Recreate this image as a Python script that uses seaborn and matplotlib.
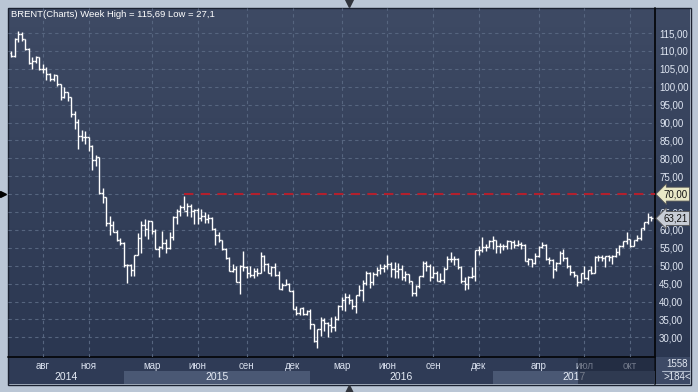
import numpy as np
import pandas as pd
import matplotlib
matplotlib.use("Agg")
import matplotlib.pyplot as plt
import matplotlib.transforms as mtransforms
from matplotlib.patches import Rectangle
import seaborn as sns

# weekly bars (open, high, low, close)
ohlc_2014 = [
    (109.4, 109.9, 108.2, 108.6), (108.6, 113.6, 108.4, 113.4), (113.4, 115.7, 112.5, 114.8),
    (114.8, 115.3, 112.9, 113.3), (113.3, 113.4, 110.4, 110.6), (110.6, 110.7, 106.4, 106.7),
    (106.7, 108.3, 104.9, 107.2), (107.2, 108.6, 106.5, 108.4), (108.4, 108.4, 104.6, 105.0),
    (105.0, 106.4, 103.9, 105.0), (105.0, 105.6, 101.9, 103.5), (103.5, 103.8, 101.6, 102.3),
    (102.3, 103.5, 101.7, 103.2), (103.2, 103.3, 100.3, 100.8), (100.8, 100.9, 96.2, 97.1),
    (97.1, 99.8, 96.8, 98.4), (98.4, 98.5, 95.9, 97.0), (97.0, 97.2, 91.5, 92.3),
    (92.3, 93.2, 88.1, 90.2), (90.2, 91.0, 82.6, 86.2), (86.2, 87.8, 84.8, 86.1),
    (86.1, 87.6, 84.1, 85.9), (85.9, 86.1, 82.1, 83.4), (83.4, 83.6, 76.8, 79.4),
    (79.4, 80.8, 77.9, 80.4), (80.4, 80.4, 70.0, 70.2), (70.2, 71.8, 67.5, 69.1),
    (69.1, 69.3, 61.2, 61.9), (61.9, 63.9, 58.5, 61.4), (61.4, 62.5, 59.4, 59.5),
    (59.5, 60.0, 57.0, 57.3), (57.3, 57.8, 55.9, 56.4),
]
ohlc_2015 = [
    (56.4, 56.5, 49.7, 50.1), (50.1, 50.6, 45.2, 50.2), (50.2, 50.5, 47.2, 48.8),
    (48.8, 53.0, 47.2, 53.0), (53.0, 59.1, 52.9, 57.8), (57.8, 62.6, 53.5, 61.5),
    (61.5, 63.0, 58.3, 60.2), (60.2, 62.9, 57.6, 62.6), (62.6, 62.6, 58.8, 59.7),
    (59.7, 60.2, 54.6, 54.7), (54.7, 55.5, 52.5, 55.3), (55.3, 59.7, 54.6, 56.4),
    (56.4, 57.5, 53.5, 55.0), (55.0, 59.4, 54.6, 57.9), (57.9, 64.0, 57.3, 63.5),
    (63.5, 65.9, 61.7, 65.3), (65.3, 67.1, 63.8, 66.5), (66.5, 69.6, 65.5, 65.4),
    (65.4, 67.6, 63.9, 66.8), (66.8, 67.3, 63.5, 65.4), (65.4, 65.8, 61.6, 65.6),
    (65.6, 66.0, 61.6, 63.3), (63.3, 65.9, 62.6, 63.9), (63.9, 64.9, 61.8, 63.0),
    (63.0, 64.4, 61.9, 63.3), (63.3, 63.5, 60.0, 60.3), (60.3, 60.6, 55.8, 58.7),
    (58.7, 59.3, 56.6, 57.1), (57.1, 57.2, 54.3, 54.6), (54.6, 54.9, 51.8, 52.2),
    (52.2, 52.3, 48.4, 48.6), (48.6, 50.6, 48.2, 49.2), (49.2, 49.8, 45.5, 45.5),
    (45.5, 50.1, 42.2, 50.0), (50.0, 54.2, 48.6, 49.6), (49.6, 50.0, 46.5, 48.1),
    (48.1, 49.8, 46.9, 47.5), (47.5, 49.5, 46.7, 48.6), (48.6, 49.4, 47.1, 48.1),
    (48.1, 53.8, 48.0, 52.7), (52.7, 53.1, 48.4, 50.5), (50.5, 50.9, 47.9, 48.1),
    (48.1, 50.0, 47.2, 49.6), (49.6, 50.9, 47.1, 47.4), (47.4, 48.6, 43.5, 43.6),
    (43.6, 45.1, 43.2, 44.7), (44.7, 46.4, 44.5, 44.9), (44.9, 45.3, 42.8, 43.0),
    (43.0, 43.2, 37.9, 37.9), (37.9, 38.8, 36.3, 36.9), (36.9, 38.2, 36.1, 38.1),
    (38.1, 38.4, 36.1, 36.5), (36.5, 37.6, 36.3, 37.3),
]
ohlc_2016 = [
    (37.3, 37.9, 32.2, 33.6), (33.6, 33.8, 28.8, 28.9), (28.9, 32.4, 27.1, 32.2),
    (32.2, 35.8, 30.3, 34.7), (34.7, 35.4, 31.8, 34.1), (34.1, 34.3, 30.0, 33.4),
    (33.4, 35.6, 31.6, 33.0), (33.0, 35.9, 31.8, 35.1), (35.1, 39.0, 34.9, 38.7),
    (38.7, 41.2, 37.6, 40.4), (40.4, 42.5, 37.3, 41.2), (41.2, 42.0, 39.2, 40.4),
    (40.4, 40.6, 38.0, 38.7), (38.7, 41.9, 36.8, 41.9), (41.9, 44.7, 41.6, 43.1),
    (43.1, 45.9, 40.1, 45.1), (45.1, 48.5, 44.5, 48.1), (48.1, 48.3, 43.9, 45.4),
    (45.4, 48.2, 44.6, 47.8), (47.8, 49.6, 47.2, 48.7), (48.7, 50.5, 47.6, 49.3),
    (49.3, 50.5, 48.2, 50.0), (50.0, 52.9, 49.1, 50.5), (50.5, 51.0, 46.9, 49.2),
    (49.2, 51.0, 46.7, 48.4), (48.4, 50.8, 46.6, 49.0), (49.0, 50.3, 45.9, 46.8),
    (46.8, 48.5, 45.8, 47.6), (47.6, 47.8, 45.3, 45.7), (45.7, 45.8, 41.5, 42.5),
    (42.5, 44.6, 41.5, 44.3), (44.3, 47.2, 43.9, 47.0), (47.0, 51.2, 46.9, 50.9),
    (50.9, 51.2, 48.4, 49.9), (49.9, 50.4, 45.6, 46.8), (46.8, 50.0, 46.6, 48.0),
    (48.0, 48.4, 45.7, 45.8), (45.8, 47.9, 45.4, 45.9), (45.9, 49.6, 45.2, 49.2),
    (49.2, 52.8, 49.1, 51.9), (51.9, 53.7, 51.0, 52.0), (52.0, 52.8, 50.3, 51.8),
    (51.8, 52.2, 49.0, 49.7), (49.7, 49.8, 45.3, 45.6), (45.6, 46.8, 43.3, 44.8),
    (44.8, 47.0, 43.6, 46.9), (46.9, 49.6, 46.5, 47.2), (47.2, 54.5, 45.8, 54.5),
    (54.5, 55.6, 53.0, 54.3), (54.3, 57.9, 53.8, 55.2), (55.2, 56.0, 54.1, 55.2),
    (55.2, 57.1, 55.1, 56.8),
]
ohlc_2017 = [
    (56.8, 58.4, 54.8, 57.1), (57.1, 57.1, 53.6, 55.5), (55.5, 56.4, 53.6, 55.5),
    (55.5, 56.2, 54.4, 55.5), (55.5, 57.2, 54.7, 56.8), (56.8, 56.9, 54.8, 56.7),
    (56.7, 57.3, 55.0, 55.8), (55.8, 57.1, 55.6, 56.0), (56.0, 56.7, 54.6, 55.9),
    (55.9, 56.2, 51.2, 51.4), (51.4, 52.2, 50.3, 51.8), (51.8, 51.9, 49.7, 50.8),
    (50.8, 53.5, 50.5, 52.8), (52.8, 55.5, 52.5, 55.2), (55.2, 56.6, 54.9, 55.9),
    (55.9, 56.1, 51.5, 52.0), (52.0, 52.5, 50.5, 51.7), (51.7, 51.9, 46.6, 49.1),
    (49.1, 51.0, 48.4, 50.8), (50.8, 54.0, 50.6, 53.6), (53.6, 54.7, 51.2, 52.2),
    (52.2, 52.5, 49.3, 50.0), (50.0, 50.3, 47.3, 48.2), (48.2, 48.6, 46.8, 47.4),
    (47.4, 47.5, 44.4, 45.5), (45.5, 48.1, 45.3, 47.9), (47.9, 50.0, 46.3, 46.7),
    (46.7, 48.9, 45.9, 48.9), (48.9, 49.9, 47.7, 48.1), (48.1, 52.6, 47.9, 52.5),
    (52.5, 53.0, 51.4, 52.4), (52.4, 53.1, 51.4, 52.1), (52.1, 52.7, 49.7, 52.7),
    (52.7, 52.9, 51.2, 52.4), (52.4, 53.1, 50.4, 52.8), (52.8, 54.9, 52.5, 53.8),
    (53.8, 55.7, 53.1, 55.6), (55.6, 56.9, 55.1, 56.9), (56.9, 59.5, 56.0, 57.5),
    (57.5, 57.6, 55.3, 55.6), (55.6, 57.2, 55.4, 57.2), (57.2, 58.5, 56.9, 57.8),
    (57.8, 60.5, 57.1, 60.4), (60.4, 62.2, 59.9, 62.1), (62.1, 64.7, 61.6, 63.5),
    (63.5, 63.8, 62.6, 63.21),
]
first_week = "2014-06-02"
last_week = "2017-11-13"
split_bars = ["2014-12-31", "2015-12-31"]   # short year-end bars

tick_months = ["2014-08", "2014-11", "2015-03", "2015-06", "2015-09", "2015-12",
               "2016-03", "2016-06", "2016-09", "2016-12", "2017-04", "2017-07", "2017-10"]
tick_labels = ["авг", "ноя", "мар", "июн", "сен", "дек",
               "мар", "июн", "сен", "дек", "апр", "июл", "окт"]
years = [2014, 2015, 2016, 2017]
shaded_years = [2015, 2017]

level = 70.0
level_from = "2015-05-04"
title = "BRENT(Charts) Week High = 115,69 Low = 27,1"
bars_total = "1558"
bars_shown = ">184<"

# build the bar table
dates = pd.date_range(first_week, last_week, freq="W-MON").append(pd.DatetimeIndex(split_bars)).sort_values()
df = pd.DataFrame(ohlc_2014 + ohlc_2015 + ohlc_2016 + ohlc_2017, columns=["open", "high", "low", "close"])
df["date"] = dates
df["idx"] = np.arange(len(df))

month_idx = [int(df.idx[df.date >= pd.Timestamp(m + "-01")].iloc[0]) for m in tick_months]
year_idx = [int(df.idx[df.date >= pd.Timestamp(f"{y}-01-01")].iloc[0]) for y in years]

sns.set_theme(style="dark")
plt.rcParams["font.family"] = ["Liberation Sans", "DejaVu Sans"]

fig = plt.figure(figsize=(6.98, 3.92), dpi=100, facecolor="#bac6d5")

# background layer in pixel coordinates
bg = fig.add_axes([0, 0, 1, 1])
bg.set_xlim(0, 698)
bg.set_ylim(392, 0)
bg.axis("off")
bg.set_zorder(0)
g = np.linspace(0, 1, 256)[:, None, None]
top_c = np.array([62, 74, 100]) / 255
bot_c = np.array([43, 55, 81]) / 255
grad = top_c * (1 - g) + bot_c * g
bg.imshow(grad, extent=[8, 690, 357, 8], aspect="auto", interpolation="bilinear")
bg.add_patch(Rectangle((8, 357), 647, 27, fc="#2f3b56", ec="none"))
bg.add_patch(Rectangle((655, 357), 35, 27, fc="#3d4a66", ec="none"))
bg.plot([655, 655], [8, 384], color="#06080c", lw=1.3)
bg.plot([8, 655], [357, 357], color="#06080c", lw=1.3)
bg.add_patch(Rectangle((7.5, 7.5), 683, 377, fill=False, ec="#1a2130", lw=1))
bg.text(677, 364, bars_total, ha="center", va="center", fontsize=7, color="#e2e8f2")
bg.text(677, 377, bars_shown, ha="center", va="center", fontsize=7, color="#e2e8f2")
bg.plot([662, 690], [370.5, 370.5], color="#a9b4c6", lw=0.8)

# main price axes
ax = fig.add_axes([8 / 698, 35 / 392, 647 / 698, 349 / 392])
ax.set_zorder(2)
ax.set_facecolor("none")
for s in ax.spines.values():
    s.set_visible(False)
ax.set_xlim(-0.95, 183.1)
ax.set_ylim(24.5, 122.0)

yt = np.arange(30, 116, 5)
ax.set_yticks(yt)
# the 70 label sits under the level marker box
ax.set_yticklabels(["" if v == level else f"{v},00" for v in yt])
ax.yaxis.tick_right()
ax.tick_params(axis="y", length=0, pad=3, labelsize=7, labelcolor="#dfe6f2")
ax.set_xticks(month_idx)
ax.set_xticklabels([])
ax.tick_params(axis="x", length=0)
ax.grid(True, color="#56657f", lw=0.8, linestyle=(0, (3, 3)))
ax.set_axisbelow(True)

# OHLC bars
bar_kw = dict(color="white", lw=1.0, zorder=3)
ax.vlines(df.idx, df.low, df.high, **bar_kw)
ax.hlines(df.open, df.idx - 0.5, df.idx, **bar_kw)
ax.hlines(df.close, df.idx, df.idx + 0.5, **bar_kw)

# level line
x_level = int(df.idx[df.date == pd.Timestamp(level_from)].iloc[0])
ax.hlines(level, x_level, 183.1, color="#b3202d", lw=1.5, linestyles=(0, (4.5, 3.5)), zorder=2)

trans_r = mtransforms.blended_transform_factory(ax.transAxes, ax.transData)
ax.text(1.013, level, "70,00", transform=trans_r, ha="left", va="center", fontsize=7,
        color="#111111", clip_on=False, zorder=6,
        bbox=dict(boxstyle="larrow,pad=0.2", fc="#e9e8c6", ec="#555555", lw=0.6))
last_close = df.close.iloc[-1]
ax.text(1.013, last_close, f"{last_close:.2f}".replace(".", ","), transform=trans_r,
        ha="left", va="center", fontsize=7, color="#111111", clip_on=False, zorder=6,
        bbox=dict(boxstyle="larrow,pad=0.2", fc="#c8cdd6", ec="#555555", lw=0.6))

# bottom time axis: months and year bands
trans_b = mtransforms.blended_transform_factory(ax.transData, bg.transData)
bounds = [ax.get_xlim()[0]] + year_idx[1:] + [ax.get_xlim()[1]]
for k, y in enumerate(years):
    x0, x1 = bounds[k], bounds[k + 1]
    if y in shaded_years:
        ax.add_patch(Rectangle((x0, 371), x1 - x0, 13, transform=trans_b, fc="#4a5874",
                               ec="none", clip_on=False, zorder=1))
    ax.text((x0 + x1) / 2, 376.5, str(y), transform=trans_b, ha="center", va="center",
            fontsize=7.5, color="#e6ecf6", clip_on=False)
for i, lab in zip(month_idx, tick_labels):
    ax.text(i, 366, lab, transform=trans_b, ha="center", va="center", fontsize=7,
            color="#d9e0ee", clip_on=False)

# foreground layer
fg = fig.add_axes([0, 0, 1, 1])
fg.set_xlim(0, 698)
fg.set_ylim(392, 0)
fg.axis("off")
fg.set_zorder(5)
fg.patch.set_alpha(0)
fg.add_patch(Rectangle((578, 358), 77, 26, fc="#1a2235", ec="none", alpha=0.55))
fg.text(11, 14.5, title, ha="left", va="center", fontsize=6.8, color="white")
fg.plot(349, 3, marker="v", ms=6, color="#30343c")
fg.plot(349, 389, marker="^", ms=6, color="#30343c")
fg.plot(3, 194, marker=">", ms=5, color="black")

fig.savefig("out.png", dpi=100, facecolor=fig.get_facecolor())
